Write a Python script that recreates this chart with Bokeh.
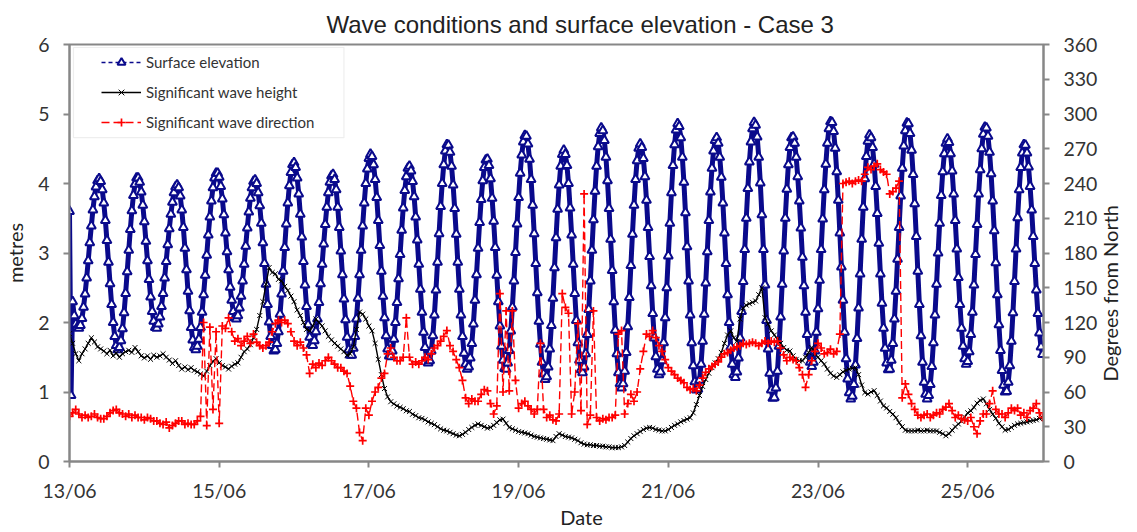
import math
from bokeh.plotting import figure
from bokeh.models import (Range1d, LinearAxis, FixedTicker, Legend, LegendItem,
                          BoxAnnotation, ColumnDataSource)
from bokeh.embed import file_html
from bokeh.resources import INLINE

# ---------------- data ----------------
# x axis: hours after 13/06 00:00
tick_hours = [0, 48, 96, 144, 192, 240, 288]
tick_labels = ["13/06", "15/06", "17/06", "19/06", "21/06", "23/06", "25/06"]
left_ticks = [0, 1, 2, 3, 4, 5, 6]
right_ticks = [0, 30, 60, 90, 120, 150, 180, 210, 240, 270, 300, 330, 360]

# Surface elevation (m), half-hourly values, one list per day
elev_13 = [3.60, 0.95, 2.30, 2.10, 1.98, 1.93, 1.92, 1.96, 2.06, 2.22, 2.41, 2.64, 2.89, 3.15, 3.39, 3.62,
           3.81, 3.95, 4.04, 4.07, 4.03, 3.91, 3.72, 3.47, 3.18, 2.87, 2.56, 2.26, 2.00, 1.80, 1.67, 1.61,
           1.64, 1.74, 1.91, 2.14, 2.42, 2.73, 3.04, 3.34, 3.61, 3.83, 3.99, 4.08, 4.08, 4.02, 3.88, 3.69]
elev_14 = [3.45, 3.17, 2.89, 2.62, 2.37, 2.16, 2.02, 1.93, 1.92, 1.98, 2.08, 2.23, 2.42, 2.64, 2.88, 3.12,
           3.35, 3.56, 3.73, 3.87, 3.95, 3.98, 3.94, 3.82, 3.62, 3.37, 3.07, 2.76, 2.45, 2.17, 1.93, 1.75,
           1.64, 1.61, 1.66, 1.76, 1.93, 2.15, 2.40, 2.68, 2.97, 3.26, 3.52, 3.75, 3.94, 4.08, 4.15, 4.15]
elev_15 = [4.09, 3.96, 3.78, 3.55, 3.29, 3.02, 2.76, 2.51, 2.32, 2.16, 2.07, 2.05, 2.10, 2.21, 2.38, 2.60,
           2.84, 3.10, 3.36, 3.59, 3.79, 3.94, 4.03, 4.05, 4.00, 3.87, 3.68, 3.43, 3.15, 2.85, 2.55, 2.26,
           2.01, 1.80, 1.67, 1.59, 1.61, 1.70, 1.87, 2.12, 2.41, 2.74, 3.08, 3.42, 3.72, 3.97, 4.16, 4.27]
elev_16 = [4.30, 4.23, 4.08, 3.85, 3.56, 3.23, 2.88, 2.54, 2.23, 1.97, 1.79, 1.69, 1.67, 1.74, 1.87, 2.05,
           2.29, 2.56, 2.84, 3.13, 3.41, 3.66, 3.87, 4.02, 4.11, 4.13, 4.06, 3.91, 3.66, 3.37, 3.03, 2.69,
           2.34, 2.04, 1.79, 1.61, 1.53, 1.53, 1.63, 1.80, 2.05, 2.35, 2.69, 3.04, 3.39, 3.72, 4.00, 4.21]
elev_17 = [4.36, 4.42, 4.39, 4.27, 4.06, 3.80, 3.47, 3.11, 2.74, 2.38, 2.07, 1.81, 1.62, 1.52, 1.51, 1.59,
           1.76, 2.00, 2.29, 2.63, 2.98, 3.33, 3.65, 3.90, 4.10, 4.22, 4.25, 4.18, 4.03, 3.81, 3.52, 3.19,
           2.84, 2.48, 2.15, 1.86, 1.64, 1.49, 1.42, 1.45, 1.59, 1.81, 2.11, 2.47, 2.87, 3.28, 3.67, 4.00]
elev_18 = [4.27, 4.47, 4.56, 4.55, 4.45, 4.25, 3.98, 3.64, 3.27, 2.87, 2.48, 2.11, 1.80, 1.56, 1.40, 1.33,
           1.36, 1.49, 1.70, 1.98, 2.32, 2.69, 3.07, 3.44, 3.77, 4.04, 4.23, 4.34, 4.35, 4.26, 4.07, 3.79,
           3.46, 3.08, 2.68, 2.30, 1.95, 1.66, 1.46, 1.34, 1.33, 1.42, 1.60, 1.88, 2.22, 2.60, 3.01, 3.42]
elev_19 = [3.80, 4.15, 4.41, 4.60, 4.69, 4.68, 4.57, 4.35, 4.06, 3.69, 3.28, 2.85, 2.43, 2.02, 1.69, 1.43,
           1.26, 1.18, 1.22, 1.36, 1.62, 1.96, 2.35, 2.79, 3.22, 3.63, 3.98, 4.25, 4.42, 4.48, 4.42, 4.26,
           4.00, 3.65, 3.26, 2.84, 2.42, 2.03, 1.71, 1.46, 1.32, 1.28, 1.36, 1.55, 1.83, 2.19, 2.60, 3.04]
elev_20 = [3.48, 3.89, 4.25, 4.53, 4.72, 4.80, 4.76, 4.62, 4.38, 4.04, 3.64, 3.20, 2.75, 2.30, 1.89, 1.55,
           1.28, 1.12, 1.06, 1.12, 1.30, 1.57, 1.94, 2.36, 2.82, 3.27, 3.69, 4.06, 4.33, 4.51, 4.57, 4.52,
           4.36, 4.10, 3.76, 3.37, 2.95, 2.53, 2.13, 1.78, 1.51, 1.33, 1.25, 1.29, 1.45, 1.71, 2.07, 2.50]
elev_21 = [2.96, 3.43, 3.87, 4.26, 4.56, 4.77, 4.86, 4.82, 4.66, 4.38, 4.02, 3.58, 3.09, 2.60, 2.11, 1.71,
           1.38, 1.15, 1.03, 1.04, 1.17, 1.40, 1.73, 2.12, 2.57, 3.02, 3.47, 3.88, 4.22, 4.47, 4.62, 4.66,
           4.58, 4.38, 4.09, 3.72, 3.29, 2.85, 2.40, 2.00, 1.65, 1.40, 1.25, 1.21, 1.29, 1.49, 1.78, 2.16]
elev_22 = [2.59, 3.05, 3.50, 3.93, 4.31, 4.60, 4.79, 4.88, 4.84, 4.67, 4.38, 4.01, 3.55, 3.05, 2.54, 2.03,
           1.62, 1.27, 1.03, 0.91, 0.92, 1.06, 1.30, 1.66, 2.08, 2.55, 3.03, 3.50, 3.92, 4.27, 4.52, 4.66,
           4.67, 4.58, 4.38, 4.10, 3.75, 3.36, 2.94, 2.53, 2.15, 1.83, 1.58, 1.43, 1.37, 1.43, 1.59, 1.86]
elev_23 = [2.20, 2.61, 3.05, 3.49, 3.91, 4.28, 4.58, 4.79, 4.89, 4.88, 4.75, 4.51, 4.17, 3.76, 3.29, 2.80,
           2.32, 1.86, 1.48, 1.19, 0.99, 0.90, 0.94, 1.11, 1.39, 1.77, 2.21, 2.70, 3.20, 3.66, 4.07, 4.39,
           4.61, 4.70, 4.66, 4.52, 4.28, 3.96, 3.57, 3.14, 2.70, 2.28, 1.92, 1.63, 1.42, 1.32, 1.33, 1.46]
elev_24 = [1.70, 2.05, 2.45, 2.91, 3.37, 3.82, 4.22, 4.54, 4.76, 4.87, 4.86, 4.72, 4.48, 4.13, 3.71, 3.24,
           2.74, 2.26, 1.81, 1.43, 1.14, 0.97, 0.90, 0.95, 1.11, 1.37, 1.71, 2.11, 2.55, 3.00, 3.43, 3.83,
           4.17, 4.43, 4.58, 4.64, 4.59, 4.43, 4.18, 3.85, 3.47, 3.06, 2.65, 2.26, 1.92, 1.66, 1.48, 1.40]
elev_25 = [1.44, 1.58, 1.83, 2.15, 2.54, 2.98, 3.41, 3.85, 4.20, 4.50, 4.71, 4.81, 4.80, 4.68, 4.45, 4.14,
           3.75, 3.32, 2.86, 2.40, 1.97, 1.60, 1.31, 1.10, 1.00, 1.01, 1.14, 1.38, 1.73, 2.14, 2.59, 3.06,
           3.51, 3.91, 4.23, 4.44, 4.56, 4.55, 4.44, 4.24, 3.96, 3.62, 3.24, 2.85, 2.47, 2.13, 1.85, 1.65]
elev_26 = [1.54]

# Significant wave height (m), hourly values, one list per day
hs_13 = [1.84, 1.70, 1.55, 1.45, 1.55, 1.62, 1.70, 1.78, 1.72, 1.65, 1.62, 1.59,
         1.55, 1.60, 1.52, 1.56, 1.50, 1.55, 1.58, 1.60, 1.57, 1.64, 1.58, 1.52]
hs_14 = [1.49, 1.52, 1.47, 1.53, 1.50, 1.52, 1.55, 1.50, 1.46, 1.41, 1.45, 1.38,
         1.33, 1.36, 1.32, 1.35, 1.31, 1.29, 1.26, 1.23, 1.30, 1.38, 1.44, 1.48]
hs_15 = [1.42, 1.38, 1.36, 1.33, 1.37, 1.40, 1.42, 1.50, 1.58, 1.62, 1.68, 1.78,
         1.90, 2.10, 2.30, 2.55, 2.79, 2.72, 2.70, 2.62, 2.60, 2.52, 2.46, 2.38]
hs_16 = [2.30, 2.18, 2.10, 2.00, 1.90, 1.88, 1.95, 2.05, 2.00, 1.95, 1.88, 1.80,
         1.75, 1.70, 1.66, 1.62, 1.58, 1.53, 1.55, 1.65, 1.90, 2.15, 2.12, 2.05]
hs_17 = [1.95, 1.88, 1.70, 1.47, 1.25, 1.05, 0.93, 0.86, 0.83, 0.80, 0.78, 0.76,
         0.73, 0.72, 0.68, 0.66, 0.63, 0.62, 0.60, 0.57, 0.55, 0.53, 0.50, 0.47]
hs_18 = [0.45, 0.44, 0.42, 0.40, 0.38, 0.37, 0.39, 0.42, 0.46, 0.49, 0.52, 0.54,
         0.52, 0.50, 0.48, 0.49, 0.52, 0.56, 0.60, 0.61, 0.55, 0.49, 0.47, 0.45]
hs_19 = [0.43, 0.42, 0.41, 0.40, 0.38, 0.36, 0.35, 0.34, 0.33, 0.32, 0.31, 0.30,
         0.36, 0.40, 0.38, 0.36, 0.35, 0.34, 0.32, 0.30, 0.27, 0.25, 0.24, 0.24]
hs_20 = [0.23, 0.23, 0.22, 0.22, 0.21, 0.21, 0.20, 0.20, 0.20, 0.21, 0.23, 0.28,
         0.33, 0.37, 0.40, 0.43, 0.46, 0.48, 0.49, 0.48, 0.46, 0.45, 0.44, 0.44]
hs_21 = [0.46, 0.49, 0.52, 0.54, 0.57, 0.59, 0.61, 0.63, 0.70, 0.82, 0.95, 1.08,
         1.18, 1.27, 1.35, 1.42, 1.48, 1.57, 1.70, 1.82, 1.88, 1.78, 1.73, 2.05]
hs_22 = [2.21, 2.25, 2.27, 2.29, 2.31, 2.40, 2.50, 2.07, 1.98, 1.88, 1.82, 1.76,
         1.70, 1.64, 1.60, 1.59, 1.52, 1.47, 1.45, 1.45, 1.50, 1.57, 1.64, 1.55]
hs_23 = [1.50, 1.45, 1.40, 1.33, 1.27, 1.23, 1.21, 1.25, 1.29, 1.31, 1.33, 1.34,
         1.35, 1.25, 1.10, 0.99, 0.97, 1.00, 1.02, 0.95, 0.87, 0.80, 0.77, 0.72]
hs_24 = [0.68, 0.63, 0.56, 0.50, 0.45, 0.44, 0.44, 0.44, 0.45, 0.44, 0.44, 0.45,
         0.44, 0.44, 0.44, 0.42, 0.40, 0.37, 0.40, 0.45, 0.50, 0.54, 0.58, 0.64]
hs_25 = [0.70, 0.73, 0.78, 0.84, 0.88, 0.90, 0.83, 0.75, 0.68, 0.62, 0.55, 0.50,
         0.45, 0.46, 0.49, 0.52, 0.54, 0.55, 0.56, 0.57, 0.58, 0.59, 0.60, 0.62]
hs_26 = [0.63]

# Significant wave direction (degrees from North), hourly values, one list per day
dir_13 = [39, 42, 45, 41, 38, 40, 38, 39, 41, 38, 37, 37, 39, 42, 44, 45, 42, 41, 39, 41, 38, 40, 38, 38]
dir_14 = [36, 38, 37, 35, 35, 33, 32, 34, 29, 31, 33, 35, 35, 32, 33, 32, 32, 35, 39, 120, 31, 116, 45, 112]
dir_15 = [33, 117, 115, 124, 112, 104, 106, 100, 104, 108, 102, 110, 103, 100, 98, 100, 103, 112, 119, 122, 120, 122, 119, 112]
dir_16 = [104, 100, 103, 98, 92, 76, 84, 81, 85, 83, 87, 90, 87, 84, 81, 81, 78, 76, 65, 52, 46, 25, 18, 46]
dir_17 = [40, 52, 60, 64, 72, 76, 93, 98, 90, 87, 87, 90, 124, 90, 84, 86, 84, 87, 90, 88, 93, 98, 100, 104]
dir_18 = [108, 113, 100, 95, 88, 81, 70, 55, 50, 54, 52, 52, 58, 62, 61, 50, 41, 48, 145, 60, 130, 61, 130, 70]
dir_19 = [46, 50, 52, 48, 45, 41, 45, 102, 45, 38, 40, 36, 35, 41, 145, 133, 128, 41, 60, 119, 44, 231, 32, 40]
dir_20 = [130, 38, 35, 37, 36, 38, 38, 40, 110, 113, 41, 50, 58, 52, 60, 80, 95, 110, 108, 113, 107, 100, 95, 88]
dir_21 = [81, 78, 75, 72, 70, 68, 64, 62, 63, 61, 66, 72, 77, 80, 82, 84, 86, 90, 93, 94, 96, 98, 99, 100]
dir_22 = [102, 101, 102, 103, 102, 100, 102, 104, 102, 104, 103, 104, 98, 92, 87, 90, 88, 87, 81, 75, 64, 75, 87, 95]
dir_23 = [102, 98, 93, 94, 97, 93, 95, 110, 240, 241, 242, 240, 242, 243, 242, 248, 254, 252, 255, 257, 252, 250, 248, 231]
dir_24 = [233, 236, 242, 55, 67, 58, 50, 45, 40, 38, 40, 41, 38, 40, 42, 41, 45, 47, 50, 44, 38, 40, 37, 36]
dir_25 = [35, 38, 30, 24, 35, 41, 41, 50, 61, 45, 41, 41, 38, 42, 46, 44, 46, 40, 42, 38, 44, 46, 50, 42]
dir_26 = [38]

elev_days = [elev_13, elev_14, elev_15, elev_16, elev_17, elev_18, elev_19,
             elev_20, elev_21, elev_22, elev_23, elev_24, elev_25, elev_26]
hs_days = [hs_13, hs_14, hs_15, hs_16, hs_17, hs_18, hs_19,
           hs_20, hs_21, hs_22, hs_23, hs_24, hs_25, hs_26]
dir_days = [dir_13, dir_14, dir_15, dir_16, dir_17, dir_18, dir_19,
            dir_20, dir_21, dir_22, dir_23, dir_24, dir_25, dir_26]


def stack(days, step):
    t, v = [], []
    for i, d in enumerate(days):
        for k, val in enumerate(d):
            t.append(i * 24 + k * step)
            v.append(val)
    return t, v


t_e, v_e = stack(elev_days, 0.5)
t_h, v_h = stack(hs_days, 1.0)
t_d, v_d = stack(dir_days, 1.0)

src_e = ColumnDataSource(dict(t=t_e, v=v_e))
src_h = ColumnDataSource(dict(t=t_h, v=v_h))
src_d = ColumnDataSource(dict(t=t_d, v=v_d))

# ---------------- figure ----------------
BLUE = "#0a0a8c"
AXIS_GREY = "#878787"
TXT = "#333333"
FONT = "Lato"
SP = "\u2002"   # en space, used to shift an axis title along its axis

p = figure(width=1137, height=532, output_backend="svg", toolbar_location=None,
           x_range=Range1d(0, 312.3), y_range=Range1d(0, 6),
           min_border_left=68, min_border_right=93, min_border_top=44, min_border_bottom=71)
p.extra_y_ranges = {"deg": Range1d(0, 360)}
p.background_fill_color = "white"
p.border_fill_color = "white"
p.outline_line_color = AXIS_GREY
p.outline_line_width = 2
p.xgrid.visible = False
p.ygrid.visible = False

p.title.text = "Wave conditions and surface elevation - Case 3"
p.title.text_font = "Liberation Sans"
p.title.text_font_size = "24px"
p.title.text_font_style = "normal"
p.title.text_color = "#222222"
p.title.align = "left"
p.title.offset = 257
p.title.standoff = 13

# series
# dense run of triangle markers in the reference reads as a solid blue band
p.line("t", "v", source=src_e, line_color=BLUE, line_width=5, line_join="round")
le = p.line("t", "v", source=src_e, line_color=BLUE, line_width=1.3, line_dash="4 3")
se = p.scatter("t", "v", source=src_e, marker="triangle", size=9, line_color=BLUE,
               line_width=2, fill_color="white")
lh = p.line("t", "v", source=src_h, line_color="black", line_width=1.4)
sh = p.scatter("t", "v", source=src_h, marker="x", size=7, line_color="black", line_width=1)
ld = p.line("t", "v", source=src_d, line_color="red", line_width=1.4, line_dash="8 4",
            y_range_name="deg")
sd = p.scatter("t", "v", source=src_d, marker="cross", size=8, line_color="red",
               line_width=1.7, y_range_name="deg")


def style_axis(ax, standoff):
    ax.axis_line_color = AXIS_GREY
    ax.axis_line_width = 2
    ax.major_tick_line_color = AXIS_GREY
    ax.major_tick_line_width = 2
    ax.major_tick_in = 0
    ax.major_tick_out = 6
    ax.minor_tick_line_color = None
    ax.major_label_text_font = FONT
    ax.major_label_text_font_size = "19.5px"
    ax.major_label_text_color = TXT
    ax.major_label_standoff = standoff
    ax.axis_label_text_font = FONT
    ax.axis_label_text_font_size = "20px"
    ax.axis_label_text_font_style = "normal"
    ax.axis_label_text_color = "#222222"


xa = p.xaxis[0]
xa.ticker = FixedTicker(ticks=tick_hours)
xa.major_label_overrides = {h: lbl for h, lbl in zip(tick_hours, tick_labels)}
style_axis(xa, 11)
xa.axis_label = SP * 5 + "Date"
xa.axis_label_standoff = 0

ya = p.yaxis[0]
ya.ticker = FixedTicker(ticks=left_ticks)
style_axis(ya, 14)
ya.axis_label = "metres"
ya.axis_label_standoff = 8

ra = LinearAxis(y_range_name="deg", ticker=FixedTicker(ticks=right_ticks))
style_axis(ra, 14)
ra.axis_label_standoff = 10
if "axis_label_align" in LinearAxis.properties():
    # read bottom-to-top, anchored at the lower end of the axis
    ra.axis_label_orientation = math.pi / 2
    ra.axis_label_align = "start"
    ra.axis_label = SP * 8 + "Degrees from North"
else:
    ra.axis_label = "Degrees from North"
p.add_layout(ra, "right")

# legend frame and legend
box = BoxAnnotation(left=1.28, right=88.0, bottom=4.66, top=5.957,
                    fill_color="white", fill_alpha=1.0, line_color="#c8c8c8", line_width=1.2)
p.add_layout(box)

legend = Legend(items=[
    LegendItem(label="Surface elevation", renderers=[le, se]),
    LegendItem(label="Significant wave height", renderers=[lh, sh]),
    LegendItem(label="Significant wave direction", renderers=[ld, sd]),
], location=(27, 324))
legend.margin = 0
legend.padding = 5
legend.spacing = 10
legend.glyph_width = 40
legend.glyph_height = 20
legend.label_height = 20
legend.label_standoff = 5
legend.label_text_font = FONT
legend.label_text_font_size = "15px"
legend.label_text_color = TXT
legend.border_line_alpha = 0
legend.background_fill_alpha = 0
p.add_layout(legend)

open("out.html", "w").write(file_html(p, INLINE))
